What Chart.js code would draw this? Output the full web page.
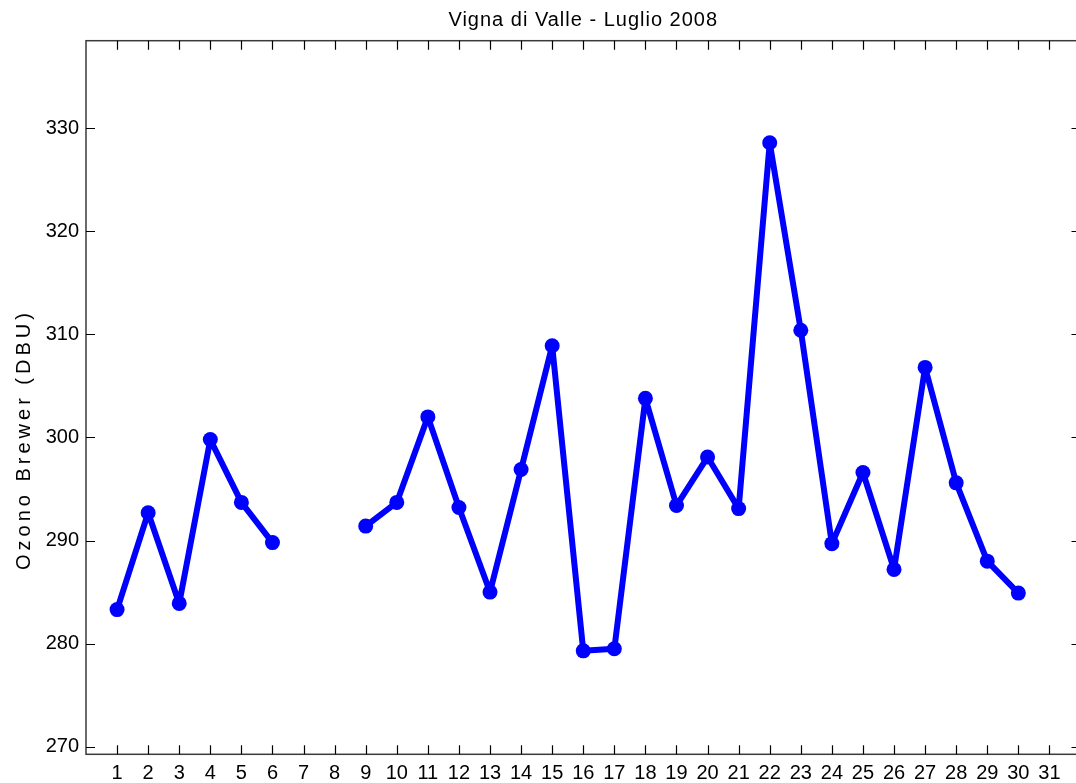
<!DOCTYPE html>
<html>
<head>
<meta charset="utf-8">
<title>Vigna di Valle - Luglio 2008</title>
<script src="https://cdn.jsdelivr.net/npm/chart.js@4/dist/chart.umd.min.js"></script>
<style>
    html, body { margin: 0; padding: 0; background: #fff; overflow: hidden; }
    #wrap { position: absolute; left: 0; top: 0; width: 1100px; height: 783px; }
</style>
</head>
<body>
<div id="wrap"><canvas id="ozoneChart"></canvas></div>
<script>
// Ozono Brewer, Vigna di Valle, luglio 2008 (giorni 7, 8 e 31 senza misura)
const days = [1, 2, 3, 4, 5, 6, 7, 8, 9, 10, 11, 12, 13, 14, 15, 16,
              17, 18, 19, 20, 21, 22, 23, 24, 25, 26, 27, 28, 29, 30, 31];
const ozone = [283.3, 292.7, 283.9, 299.8, 293.7, 289.8, null, null, 291.4, 293.7,
               302.0, 293.2, 285.0, 296.9, 308.9, 279.3, 279.5, 303.8, 293.4, 298.1,
               293.1, 328.6, 310.4, 289.7, 296.6, 287.2, 306.8, 295.6, 288.0, 284.9, null];
const yTicks = [270, 280, 290, 300, 310, 320, 330];
const chartTitle = 'Vigna di Valle - Luglio 2008';
const yLabel = 'Ozono Brewer (DBU)';

const FONT = "'Liberation Sans', Arial, sans-serif";
Chart.defaults.font.family = FONT;
Chart.defaults.color = '#000';

// MATLAB-style box with inward ticks on all four sides, title and y label
const matlabFrame = {
    id: 'matlabFrame',
    afterDatasetsDraw(chart) {
        const { ctx, chartArea: a, scales: { x, y } } = chart;
        const len = 9;
        ctx.save();
        ctx.strokeStyle = '#3a3a3a';
        ctx.lineWidth = 1.5;
        ctx.strokeRect(a.left, a.top, a.right - a.left, a.bottom - a.top);
        ctx.strokeStyle = '#000';
        ctx.lineWidth = 1.2;
        ctx.beginPath();
        days.forEach(d => {
            const px = Math.round(x.getPixelForValue(d)) + 0.5;
            ctx.moveTo(px, a.bottom); ctx.lineTo(px, a.bottom - len);
            ctx.moveTo(px, a.top); ctx.lineTo(px, a.top + len);
        });
        yTicks.forEach(v => {
            const py = Math.round(y.getPixelForValue(v)) + 0.5;
            ctx.moveTo(a.left, py); ctx.lineTo(a.left + len, py);
            ctx.moveTo(a.right, py); ctx.lineTo(a.right - len, py);
        });
        ctx.stroke();

        ctx.fillStyle = '#000';
        ctx.font = '20px ' + FONT;
        ctx.textAlign = 'center';
        ctx.textBaseline = 'middle';
        const hasSpacing = 'letterSpacing' in ctx;
        if (hasSpacing) ctx.letterSpacing = '1px';
        ctx.fillText(chartTitle, (a.left + a.right) / 2, 20);

        // y label sits a bit below the axis centre in the original
        if (hasSpacing) ctx.letterSpacing = '4px';
        ctx.translate(24, y.getPixelForValue(299.8));
        ctx.rotate(-Math.PI / 2);
        ctx.fillText(yLabel, 0, 0);
        ctx.restore();
    }
};

const ctx = document.getElementById('ozoneChart').getContext('2d');
new Chart(ctx, {
    type: 'line',
    data: {
        datasets: [{
            label: yLabel,
            data: days.map((d, i) => ({ x: d, y: ozone[i] })),
            borderColor: '#0000ff',
            backgroundColor: '#0000ff',
            borderWidth: 6,
            borderJoinStyle: 'round',
            borderCapStyle: 'round',
            pointRadius: 7.5,
            pointBorderWidth: 0,
            pointBackgroundColor: '#0000ff',
            tension: 0,
            spanGaps: false
        }]
    },
    options: {
        responsive: true,
        maintainAspectRatio: false,
        animation: false,
        events: [],
        layout: { padding: { top: 40.7, right: 19.5, left: 0, bottom: 0 } },
        plugins: {
            legend: { display: false },
            title: { display: false },
            tooltip: { enabled: false }
        },
        scales: {
            x: {
                type: 'linear',
                min: 0,
                max: 32,
                afterBuildTicks: s => { s.ticks = days.map(v => ({ value: v })); },
                afterFit: s => { s.height = 28.7; },
                grid: { display: false, drawTicks: false },
                border: { display: false },
                ticks: {
                    autoSkip: false,
                    maxRotation: 0,
                    padding: 7,
                    font: { size: 20 },
                    color: '#000'
                }
            },
            y: {
                type: 'linear',
                min: 269.26,
                max: 338.5,
                afterBuildTicks: s => { s.ticks = yTicks.map(v => ({ value: v })); },
                afterFit: s => { s.width = 86; },
                grid: { display: false, drawTicks: false },
                border: { display: false },
                ticks: {
                    padding: 7,
                    font: { size: 20 },
                    color: '#000'
                }
            }
        }
    },
    plugins: [matlabFrame]
});
</script>
</body>
</html>
